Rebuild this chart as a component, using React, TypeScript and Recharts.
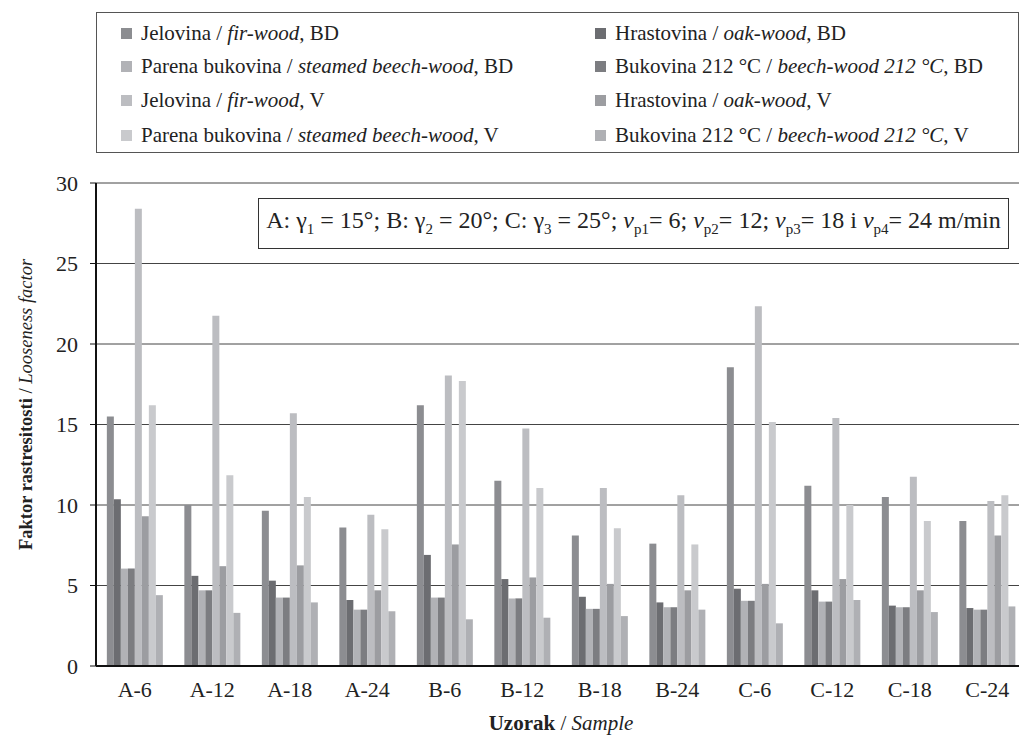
import { BarChart, Bar, XAxis, YAxis, CartesianGrid } from "recharts"

const FONT = '"Liberation Serif", "Times New Roman", Times, serif'

const samples = ["A-6", "A-12", "A-18", "A-24", "B-6", "B-12", "B-18", "B-24", "C-6", "C-12", "C-18", "C-24"]

const firBD = [15.5, 10.0, 9.65, 8.6, 16.2, 11.5, 8.1, 7.6, 18.55, 11.2, 10.5, 9.0]
const oakBD = [10.35, 5.6, 5.3, 4.1, 6.9, 5.4, 4.3, 3.95, 4.8, 4.7, 3.75, 3.6]
const steamedBD = [6.05, 4.7, 4.25, 3.5, 4.25, 4.2, 3.55, 3.65, 4.05, 4.0, 3.65, 3.5]
const beech212BD = [6.05, 4.7, 4.25, 3.5, 4.25, 4.2, 3.55, 3.65, 4.05, 4.0, 3.65, 3.5]
const firV = [28.4, 21.75, 15.7, 9.4, 18.05, 14.75, 11.05, 10.6, 22.35, 15.4, 11.75, 10.25]
const oakV = [9.3, 6.2, 6.25, 4.7, 7.55, 5.5, 5.1, 4.7, 5.1, 5.4, 4.7, 8.1]
const steamedV = [16.2, 11.85, 10.5, 8.5, 17.7, 11.05, 8.55, 7.55, 15.15, 10.0, 9.0, 10.6]
const beech212V = [4.4, 3.3, 3.95, 3.4, 2.9, 3.0, 3.1, 3.5, 2.65, 4.1, 3.35, 3.7]

const yTicks = [0, 5, 10, 15, 20, 25, 30]

const series = [
  { key: "firBD", values: firBD, hr: "Jelovina", en: "fir-wood", tag: "BD", color: "#8c8d91" },
  { key: "oakBD", values: oakBD, hr: "Hrastovina", en: "oak-wood", tag: "BD", color: "#6c6d71" },
  { key: "steamedBD", values: steamedBD, hr: "Parena bukovina", en: "steamed beech-wood", tag: "BD", color: "#b1b2b6" },
  { key: "beech212BD", values: beech212BD, hr: "Bukovina 212 °C", en: "beech-wood 212 °C", tag: "BD", color: "#7c7d81" },
  { key: "firV", values: firV, hr: "Jelovina", en: "fir-wood", tag: "V", color: "#bcbdc1" },
  { key: "oakV", values: oakV, hr: "Hrastovina", en: "oak-wood", tag: "V", color: "#9c9da1" },
  { key: "steamedV", values: steamedV, hr: "Parena bukovina", en: "steamed beech-wood", tag: "V", color: "#c9cacd" },
  { key: "beech212V", values: beech212V, hr: "Bukovina 212 °C", en: "beech-wood 212 °C", tag: "V", color: "#afb0b4" },
]

const data = samples.map((name, i) => {
  const row: Record<string, string | number> = { name }
  series.forEach((s) => {
    row[s.key] = s.values[i]
  })
  return row
})

const legendRows = [20, 53, 87, 122]

function LegendBox() {
  return (
    <div
      style={{
        position: "absolute",
        left: 96,
        top: 12,
        width: 921,
        height: 139,
        border: "1px solid #555",
        fontFamily: FONT,
        fontSize: 21,
        color: "#222",
      }}
    >
      {series.map((s, i) => {
        const col = i % 2
        const top = legendRows[Math.floor(i / 2)]
        const left = col === 0 ? 24 : 498
        return (
          <div
            key={s.key}
            style={{ position: "absolute", left, top: top - 13, height: 26, display: "flex", alignItems: "center", whiteSpace: "nowrap" }}
          >
            <span style={{ display: "inline-block", width: 11, height: 11, background: s.color, marginRight: 9 }} />
            <span>
              {s.hr} / <i>{s.en}</i>, {s.tag}
            </span>
          </div>
        )
      })}
    </div>
  )
}

function NoteBox() {
  const sub = { fontSize: 15, verticalAlign: "-6px" }
  return (
    <div
      style={{
        position: "absolute",
        left: 258,
        top: 198,
        width: 749,
        height: 49,
        border: "1px solid #333",
        background: "#fff",
        fontFamily: FONT,
        fontSize: 24,
        color: "#222",
        display: "flex",
        alignItems: "center",
        justifyContent: "center",
        whiteSpace: "nowrap",
      }}
    >
      <span style={{ marginTop: -2 }}>
        A: γ<span style={sub}>1</span> = 15°; B: γ<span style={sub}>2</span> = 20°; C: γ<span style={sub}>3</span> = 25°;{" "}
        <i>v</i><span style={sub}>p1</span>= 6; <i>v</i><span style={sub}>p2</span>= 12; <i>v</i><span style={sub}>p3</span>= 18 i{" "}
        <i>v</i><span style={sub}>p4</span>= 24 m/min
      </span>
    </div>
  )
}

const YLabel = (props: any) => {
  const { viewBox } = props
  const x = viewBox.x - 4
  const y = viewBox.y + viewBox.height / 2 - 20
  return (
    <text x={x} y={y} transform={`rotate(-90, ${x}, ${y})`} textAnchor="middle" fontFamily={FONT} fontSize={18.5} fill="#222">
      <tspan fontWeight="bold">Faktor rastresitosti</tspan>
      <tspan> / </tspan>
      <tspan fontStyle="italic">Looseness factor</tspan>
    </text>
  )
}

const XLabel = (props: any) => {
  const { viewBox } = props
  const x = viewBox.x + viewBox.width / 2
  return (
    <text x={x} y={730} textAnchor="middle" fontFamily={FONT} fontSize={21} fill="#222">
      <tspan fontWeight="bold">Uzorak</tspan>
      <tspan> / </tspan>
      <tspan fontStyle="italic">Sample</tspan>
    </text>
  )
}

export default function App() {
  return (
    <div style={{ position: "absolute", left: 0, top: 0, width: 1019, height: 735, overflow: "hidden", background: "#fff" }}>
      <BarChart
        width={1030}
        height={735}
        data={data}
        margin={{ top: 183, right: 4, bottom: 39, left: 36 }}
        barGap={0}
        barCategoryGap="14%"
      >
        <CartesianGrid vertical={false} stroke="#444" strokeWidth={1} />
        <XAxis
          dataKey="name"
          height={30}
          axisLine={{ stroke: "#111", strokeWidth: 2 }}
          tickLine={false}
          tickSize={6}
          tickMargin={9}
          tick={{ fontFamily: FONT, fontSize: 22, fill: "#222" }}
          label={<XLabel />}
        />
        <YAxis
          width={60}
          domain={[0, 30]}
          ticks={yTicks}
          axisLine={{ stroke: "#111", strokeWidth: 2 }}
          tickLine={{ stroke: "#111" }}
          tickSize={6}
          tickMargin={12}
          tick={{ fontFamily: FONT, fontSize: 22, fill: "#222" }}
          label={<YLabel />}
        />
        {series.map((s) => (
          <Bar key={s.key} dataKey={s.key} fill={s.color} isAnimationActive={false} />
        ))}
      </BarChart>
      <LegendBox />
      <NoteBox />
    </div>
  )
}
